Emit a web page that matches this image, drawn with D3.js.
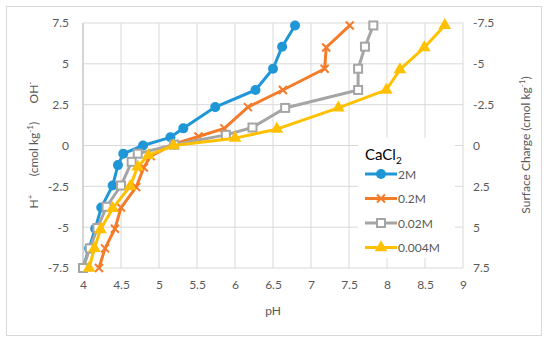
<!DOCTYPE html>
<html>
<head>
<meta charset="utf-8">
<script src="https://cdn.jsdelivr.net/npm/d3@7"></script>
<style>
  body { margin: 0; background: #fff; }
  svg text { font-family: Lato, "Open Sans", sans-serif; }
</style>
</head>
<body>
<div id="chart"></div>
<script>
// data
const names = ["2M", "0.2M", "0.02M", "0.004M"];
const colors = ["#1f97d6", "#f47b2a", "#a5a5a5", "#ffc000"];
const shapes = ["circle", "cross", "square", "triangle"];

const ph2M   = [6.79, 6.62, 6.50, 6.27, 5.74, 5.32, 5.15, 4.79, 4.53, 4.46, 4.39, 4.24, 4.16, 4.08, 4.00];
const q2M    = [7.35, 6.05, 4.7, 3.4, 2.35, 1.05, 0.5, 0, -0.5, -1.2, -2.45, -3.8, -5.1, -6.3, -7.5];
const ph02M  = [7.51, 7.20, 7.18, 6.63, 6.17, 5.86, 5.52, 5.20, 4.89, 4.80, 4.70, 4.50, 4.42, 4.29, 4.21];
const q02M   = [7.35, 6.0, 4.7, 3.4, 2.35, 1.05, 0.55, 0.1, -0.65, -1.35, -2.55, -3.8, -5.1, -6.3, -7.5];
const ph002M = [7.82, 7.71, 7.62, 7.62, 6.66, 6.23, 5.88, 5.20, 4.72, 4.64, 4.50, 4.31, 4.19, 4.09, 4.00];
const q002M  = [7.35, 6.05, 4.7, 3.4, 2.3, 1.1, 0.65, 0.05, -0.5, -1.0, -2.45, -3.75, -5.05, -6.3, -7.5];
const ph0004M = [8.76, 8.49, 8.17, 7.99, 7.36, 6.55, 6.00, 5.19, 4.86, 4.72, 4.62, 4.39, 4.23, 4.15, 4.08];
const q0004M  = [7.35, 6.0, 4.65, 3.4, 2.3, 1.0, 0.45, 0, -0.6, -1.3, -2.5, -3.85, -5.15, -6.3, -7.5];

const xTicks = [4, 4.5, 5, 5.5, 6, 6.5, 7, 7.5, 8, 8.5, 9];
const yTicks = [-7.5, -5, -2.5, 0, 2.5, 5, 7.5];

const series = [
  { name: names[0], x: ph2M, y: q2M },
  { name: names[1], x: ph02M, y: q02M },
  { name: names[2], x: ph002M, y: q002M },
  { name: names[3], x: ph0004M, y: q0004M }
];

const W = 550, H = 342;
const margin = { top: 23, right: 87, bottom: 74, left: 83 };
const width = W - margin.left - margin.right;
const height = H - margin.top - margin.bottom;

const svg = d3.select("#chart").append("svg")
  .attr("width", W)
  .attr("height", H);

// outer frame
svg.append("rect")
  .attr("x", 6.5).attr("y", 6.5)
  .attr("width", 535).attr("height", 329)
  .attr("fill", "#fff")
  .attr("stroke", "#d9d9d9");

const g = svg.append("g")
  .attr("transform", `translate(${margin.left},${margin.top})`);

const x = d3.scaleLinear().domain([4, 9]).range([0, width]);
const y = d3.scaleLinear().domain([-7.5, 7.5]).range([height, 0]);
const yRight = d3.scaleLinear().domain([7.5, -7.5]).range([height, 0]);

// gridlines
g.append("g")
  .selectAll("line")
  .data(xTicks)
  .enter().append("line")
  .attr("x1", d => x(d)).attr("x2", d => x(d))
  .attr("y1", 0).attr("y2", height)
  .attr("stroke", "#d9d9d9");

g.append("g")
  .selectAll("line")
  .data(yTicks)
  .enter().append("line")
  .attr("x1", 0).attr("x2", width)
  .attr("y1", d => y(d)).attr("y2", d => y(d))
  .attr("stroke", "#d9d9d9");

// axes
const fmt = d => String(d);

const xAxis = g.append("g")
  .attr("transform", `translate(0,${height})`)
  .call(d3.axisBottom(x).tickValues(xTicks).tickFormat(fmt).tickSize(0).tickPadding(12));

const yAxis = g.append("g")
  .call(d3.axisLeft(y).tickValues(yTicks).tickFormat(fmt).tickSize(0).tickPadding(14));

const yAxisR = g.append("g")
  .attr("transform", `translate(${width},0)`)
  .call(d3.axisRight(yRight).tickValues(yTicks).tickFormat(fmt).tickSize(0).tickPadding(10));

[xAxis, yAxis, yAxisR].forEach(a => {
  a.select(".domain").remove();
  a.selectAll("text").attr("fill", "#595959").attr("font-size", 12);
});
g.append("line")
  .attr("x1", 0).attr("x2", 0)
  .attr("y1", 0).attr("y2", height)
  .attr("stroke", "#bfbfbf");

// axis titles
svg.append("text")
  .attr("x", margin.left + x(6.5))
  .attr("y", 315)
  .attr("text-anchor", "middle")
  .attr("fill", "#595959")
  .attr("font-size", 12)
  .text("pH");

const leftTitle = svg.append("text")
  .attr("transform", "translate(38,145) rotate(-90)")
  .attr("text-anchor", "middle")
  .attr("fill", "#595959")
  .attr("font-size", 12);
leftTitle.append("tspan").text("H");
leftTitle.append("tspan").attr("dy", -5).attr("font-size", 8).text("+");
leftTitle.append("tspan").attr("dy", 5).attr("xml:space", "preserve").text("      (cmol kg");
leftTitle.append("tspan").attr("dy", -5).attr("font-size", 8).text("-1");
leftTitle.append("tspan").attr("dy", 5).attr("xml:space", "preserve").text(")      OH");
leftTitle.append("tspan").attr("dy", -5).attr("font-size", 8).text("-");
svg.selectAll("tspan").attr("style", "white-space: pre");

const rightTitle = svg.append("text")
  .attr("transform", "translate(530,145) rotate(-90)")
  .attr("text-anchor", "middle")
  .attr("fill", "#595959")
  .attr("font-size", 12);
rightTitle.append("tspan").text("Surface Charge (cmol kg");
rightTitle.append("tspan").attr("dy", -5).attr("font-size", 8).text("-1");
rightTitle.append("tspan").attr("dy", 5).text(")");

// markers
function drawMarker(sel, shape, color) {
  if (shape === "circle") {
    sel.append("circle").attr("r", 5).attr("fill", color);
  } else if (shape === "cross") {
    sel.append("path").attr("d", "M-4,-4L4,4M-4,4L4,-4")
      .attr("stroke", color).attr("stroke-width", 2).attr("fill", "none");
  } else if (shape === "square") {
    sel.append("rect").attr("x", -4).attr("y", -4).attr("width", 8).attr("height", 8)
      .attr("fill", "#fff").attr("stroke", color).attr("stroke-width", 2);
  } else {
    sel.append("path").attr("d", d3.symbol(d3.symbolTriangle, 70)())
      .attr("fill", color);
  }
}

const line = d3.line().x(d => x(d[0])).y(d => y(d[1]));

series.forEach((s, i) => {
  const pts = s.x.map((v, k) => [v, s.y[k]]);
  g.append("path")
    .datum(pts)
    .attr("d", line)
    .attr("fill", "none")
    .attr("stroke", colors[i])
    .attr("stroke-width", 3)
    .attr("stroke-linejoin", "round");
  g.append("g")
    .selectAll("g")
    .data(pts)
    .enter().append("g")
    .attr("transform", d => `translate(${x(d[0])},${y(d[1])})`)
    .each(function () { drawMarker(d3.select(this), shapes[i], colors[i]); });
});

// legend
const leg = svg.append("g").attr("transform", "translate(358,138)");
leg.append("rect")
  .attr("width", 97).attr("height", 120)
  .attr("fill", "#fff");
const legTitle = leg.append("text")
  .attr("x", 7).attr("y", 22)
  .attr("font-size", 15)
  .attr("fill", "#000");
legTitle.append("tspan").text("CaCl");
legTitle.append("tspan").attr("dy", 4).attr("font-size", 10).text("2");

names.forEach((n, i) => {
  const row = leg.append("g").attr("transform", `translate(7,${36 + i * 24.5})`);
  row.append("line")
    .attr("x1", 0).attr("x2", 32)
    .attr("stroke", colors[i]).attr("stroke-width", 3);
  drawMarker(row.append("g").attr("transform", "translate(16,0)"), shapes[i], colors[i]);
  row.append("text")
    .attr("x", 33).attr("y", 4.5)
    .attr("font-size", 12)
    .attr("fill", "#595959")
    .text(n);
});
</script>
</body>
</html>
